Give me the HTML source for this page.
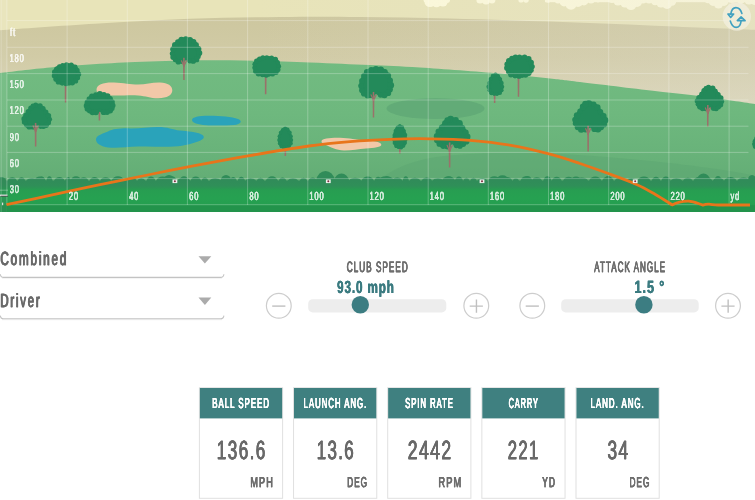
<!DOCTYPE html>
<html lang="en"><head><meta charset="utf-8"><title>Shot simulator</title>
<style>html,body{margin:0;padding:0;background:#fff}body{width:755px;height:500px;overflow:hidden;position:relative;font-family:"Liberation Sans",sans-serif}svg{position:absolute;left:0;top:0;display:block}</style></head>
<body>
<svg class="land" width="755" height="500" viewBox="0 0 755 500">
<defs>
<linearGradient id="gr" x1="0" y1="0" x2="0" y2="1"><stop offset="0" stop-color="#72bb81"/><stop offset="0.35" stop-color="#6eb87e"/><stop offset="0.6" stop-color="#69b37a"/><stop offset="0.8" stop-color="#63ad75"/><stop offset="1" stop-color="#5fa971"/></linearGradient>
<linearGradient id="tan" gradientUnits="userSpaceOnUse" x1="0" y1="17" x2="0" y2="105"><stop offset="0" stop-color="#cdc79f"/><stop offset="0.45" stop-color="#d1cba6"/><stop offset="1" stop-color="#dbd6b8"/></linearGradient>
<linearGradient id="hz" gradientUnits="userSpaceOnUse" x1="250" y1="0" x2="755" y2="0"><stop offset="0" stop-color="#dedbd0" stop-opacity="0"/><stop offset="1" stop-color="#dedbd0" stop-opacity="0.28"/></linearGradient>
<linearGradient id="bush" x1="0" y1="0" x2="0" y2="1"><stop offset="0" stop-color="#308c59"/><stop offset="0.55" stop-color="#2f8f58"/><stop offset="1" stop-color="#279d51"/></linearGradient>
<linearGradient id="fw" x1="0" y1="0" x2="0" y2="1"><stop offset="0" stop-color="#279d51"/><stop offset="0.4" stop-color="#26a151"/><stop offset="1" stop-color="#239b4e"/></linearGradient>
</defs>
<clipPath id="cl"><rect width="755" height="212"/></clipPath><g clip-path="url(#cl)">
<rect width="755" height="212" fill="#e8e4b9"/>
<g fill="#fdfadb"><circle cx="430" cy="1.5" r="5.6"/><circle cx="436.5" cy="2.5" r="4.8"/><circle cx="443" cy="2" r="4.6"/><circle cx="447" cy="0" r="3"/><circle cx="426" cy="0" r="2.5"/><circle cx="480" cy="0" r="3.6"/><circle cx="486" cy="0.5" r="4"/><circle cx="492" cy="0" r="3.4"/><circle cx="521" cy="0" r="2.6"/><circle cx="526" cy="0" r="2.8"/><circle cx="548" cy="-0.5" r="3.2"/><circle cx="558" cy="0" r="3.4"/><circle cx="564" cy="2" r="4.4"/><circle cx="571" cy="4" r="5.8"/><circle cx="578" cy="2" r="5"/><circle cx="584" cy="1" r="4.4"/><circle cx="591" cy="0" r="3.6"/><circle cx="598" cy="-1" r="3.4"/><circle cx="612" cy="-1" r="4"/><circle cx="618" cy="1" r="4.6"/><circle cx="625" cy="3" r="4.6"/><circle cx="631" cy="4.6" r="5.4"/><circle cx="637" cy="2" r="5"/><circle cx="643" cy="0" r="3.6"/><circle cx="649" cy="0" r="3.6"/><circle cx="655" cy="1" r="4.2"/><circle cx="661" cy="3" r="4.6"/><circle cx="667" cy="4" r="5"/><circle cx="672" cy="1.5" r="4.2"/><circle cx="677" cy="-1" r="3"/><circle cx="690" cy="-2" r="3.2"/><circle cx="700" cy="-2" r="4"/><circle cx="708" cy="-1" r="4.2"/><circle cx="713" cy="1.5" r="4.4"/><circle cx="718.5" cy="4" r="4.6"/><circle cx="724" cy="1.5" r="4.4"/><circle cx="732" cy="-1" r="4"/><circle cx="741" cy="-1" r="4.6"/><circle cx="749" cy="0" r="4.6"/><circle cx="755" cy="1" r="4"/><rect x="545" y="0" width="210" height="2.2"/></g>
<path d="M0,30.2C15.8,29.1 63.3,25.7 95.0,23.8C126.7,21.9 159.2,19.9 190.0,18.8C220.8,17.7 251.7,17.3 280.0,17.0C308.3,16.7 331.7,16.7 360.0,17.0C388.3,17.3 418.3,17.8 450.0,18.6C481.7,19.4 515.8,20.4 550.0,21.6C584.2,22.8 620.8,24.3 655.0,25.7C689.2,27.1 738.3,29.1 755.0,29.8L755,212L0,212Z" fill="url(#tan)"/>
<rect x="250" y="0" width="505" height="110" fill="url(#hz)"/>
<path d="M0,73C8.3,72.1 33.3,69.0 50.0,67.5C66.7,66.0 83.3,64.8 100.0,63.8C116.7,62.8 128.3,62.0 150.0,61.4C171.7,60.8 203.3,60.1 230.0,60.3C256.7,60.5 286.7,61.6 310.0,62.4C333.3,63.2 351.7,64.2 370.0,65.0C388.3,65.8 398.3,66.1 420.0,67.5C441.7,68.9 478.3,71.7 500.0,73.5C521.7,75.3 536.7,77.1 550.0,78.5C563.3,79.9 562.5,79.9 580.0,82.0C597.5,84.1 633.3,88.5 655.0,91.1C676.7,93.7 693.3,95.3 710.0,97.5C726.7,99.7 747.5,102.9 755.0,104.0L755,212L0,212Z" fill="url(#gr)"/>
<ellipse cx="435.5" cy="108.6" rx="49" ry="10.4" fill="#62ab77"/>
<path d="M430,158 C480,150 560,152 640,160 C700,166 740,172 755,176 L755,180 L380,180 C390,170 410,162 430,158Z" fill="#5ca671" opacity="0.5"/>
<path d="M96.5,90 C96.5,84 104,82.3 114,82.6 C124,83 130,84.6 138,84.6 C146,84.6 152,82.4 160,82.6 C168,82.8 172.3,86 172.3,90.5 C172.3,95 167,98.3 158,98.2 C150,98.1 146,96 138,95.4 C130,94.8 124,95.6 116,95.6 C106,95.6 96.5,95 96.5,90Z" fill="#f2c8a8"/>
<path d="M321.5,141 C322,138.6 330,137.6 340,137.8 C350,138 356,139.8 364,140.2 C372,140.6 381,141.6 381.3,144.4 C381.6,147 374,147.8 366,148.4 C358,149 352,150.5 344,150.4 C336,150.3 331,147.6 327,145.6 C323,143.8 321,142.6 321.5,141Z" fill="#f2c8a8"/>
<path d="M96,139 C96.5,135 103,133.6 108,131.4 C113,129 120,128.2 130,128.4 C140,128.6 148,127 158,127 C168,127 172,129.6 180,130.6 C188,131.4 196,132 201,134.2 C206,136.4 204,139.6 198,141.4 C192,143.2 186,145.6 174,146.4 C162,147.2 150,146 138,146.6 C126,147.2 116,148.4 108,147.4 C100,146.4 95.6,143 96,139Z" fill="#2aa3ba"/>
<path d="M192,120 C192,117 200,115.6 210,115.8 C220,116 232,116.6 238,119 C243,121 241,124.4 234,125 C226,125.6 214,125.8 206,125.2 C198,124.6 192,123 192,120Z" fill="#2aa3ba"/>
<path d="M34.7,125.0L36.5,125.0L36.4,146.5L34.9,146.5Z" fill="#9a716a"/>
<path d="M35.7,105.0C36.9,105.0 38.8,105.3 40.1,105.9C41.3,106.5 42.2,107.6 43.1,108.6C44.1,109.6 44.8,111.0 45.7,112.2C46.6,113.4 47.8,114.6 48.5,115.8C49.2,116.9 49.7,118.1 49.8,119.3C49.8,120.5 49.4,121.9 48.8,122.9C48.2,123.9 47.1,124.5 46.2,125.1C45.4,125.8 44.6,126.5 43.6,126.7C42.7,126.9 41.4,126.8 40.6,126.5C39.8,126.2 39.4,125.1 38.8,124.7C38.2,124.3 37.6,123.8 37.0,123.8C36.4,123.8 35.9,124.2 35.2,124.7C34.5,125.2 33.9,126.6 32.9,126.9C31.9,127.3 30.4,127.2 29.3,126.9C28.2,126.6 27.1,126.0 26.3,125.1C25.5,124.3 24.8,123.1 24.5,122.0C24.1,121.0 24.0,120.0 24.2,118.9C24.4,117.8 25.1,116.5 25.8,115.3C26.4,114.1 27.5,112.9 28.3,111.7C29.2,110.5 30.1,109.1 30.9,108.1C31.6,107.2 32.1,106.4 32.9,105.9C33.7,105.4 34.5,105.0 35.7,105.0Z" fill="#238a5a" stroke="#238a5a" stroke-width="3.1" stroke-linejoin="round"/>
<g fill="#238a5a"><circle cx="35.7" cy="105.0" r="2.4"/><circle cx="40.1" cy="105.9" r="2.6"/><circle cx="43.1" cy="108.6" r="2.5"/><circle cx="45.7" cy="112.2" r="2.7"/><circle cx="48.5" cy="115.8" r="2.7"/><circle cx="49.8" cy="119.3" r="2.3"/><circle cx="48.8" cy="122.9" r="2.2"/><circle cx="46.2" cy="125.1" r="2.8"/><circle cx="43.6" cy="126.7" r="2.4"/><circle cx="40.6" cy="126.5" r="2.4"/><circle cx="32.9" cy="126.9" r="2.6"/><circle cx="29.3" cy="126.9" r="2.7"/><circle cx="26.3" cy="125.1" r="2.3"/><circle cx="24.5" cy="122.0" r="2.7"/><circle cx="24.2" cy="118.9" r="2.8"/><circle cx="25.8" cy="115.3" r="2.6"/><circle cx="28.3" cy="111.7" r="2.7"/><circle cx="30.9" cy="108.1" r="2.7"/><circle cx="32.9" cy="105.9" r="2.3"/></g>
<path d="M35.6,131.4L33.2,125.9M35.6,131.4L38.2,125.9" stroke="#9a716a" stroke-width="1.2" fill="none" stroke-linecap="round"/>
<path d="M34.8,122.9L36.4,122.9L36.4,131.9L34.8,131.9Z" fill="#9a716a"/>
<path d="M64.7,81.8L66.5,81.8L66.3,102.4L64.8,102.4Z" fill="#9a716a"/>
<path d="M66.5,64.9C67.9,64.8 69.9,64.7 71.3,65.1C72.8,65.4 74.1,65.9 75.2,66.7C76.2,67.6 77.0,68.8 77.6,70.1C78.1,71.3 78.5,72.9 78.5,74.2C78.6,75.5 78.3,76.8 77.8,77.9C77.3,79.1 76.6,80.1 75.6,80.9C74.7,81.7 73.4,82.4 72.3,82.8C71.2,83.1 70.0,82.9 68.9,83.0C67.9,83.1 67.1,83.5 66.0,83.5C64.9,83.6 63.5,83.6 62.2,83.3C60.9,83.1 59.4,82.7 58.3,82.0C57.2,81.4 56.3,80.5 55.7,79.4C55.0,78.4 54.6,76.9 54.5,75.7C54.3,74.4 54.4,73.1 54.7,72.0C55.0,70.8 55.6,69.5 56.4,68.6C57.2,67.7 58.2,66.9 59.3,66.4C60.3,65.8 61.4,65.5 62.6,65.2C63.9,65.0 65.1,64.9 66.5,64.9Z" fill="#238a5a" stroke="#238a5a" stroke-width="3.0" stroke-linejoin="round"/>
<g fill="#238a5a"><circle cx="66.5" cy="64.9" r="2.6"/><circle cx="71.3" cy="65.1" r="2.5"/><circle cx="75.2" cy="66.7" r="2.3"/><circle cx="77.6" cy="70.1" r="2.1"/><circle cx="78.5" cy="74.2" r="2.7"/><circle cx="77.8" cy="77.9" r="2.4"/><circle cx="75.6" cy="80.9" r="2.6"/><circle cx="72.3" cy="82.8" r="2.7"/><circle cx="68.9" cy="83.0" r="2.6"/><circle cx="66.0" cy="83.5" r="2.7"/><circle cx="62.2" cy="83.3" r="2.4"/><circle cx="58.3" cy="82.0" r="2.6"/><circle cx="55.7" cy="79.4" r="2.4"/><circle cx="54.5" cy="75.7" r="2.7"/><circle cx="54.7" cy="72.0" r="2.7"/><circle cx="56.4" cy="68.6" r="2.2"/><circle cx="59.3" cy="66.4" r="2.2"/><circle cx="62.6" cy="65.2" r="2.2"/></g>
<path d="M98.5,111.2L100.3,111.2L100.2,120.4L98.7,120.4Z" fill="#9a716a"/>
<path d="M99.8,94.1C101.2,94.1 102.7,94.1 104.0,94.5C105.3,94.8 106.6,95.3 107.7,96.0C108.7,96.7 109.5,97.6 110.3,98.6C111.0,99.6 111.7,100.9 112.1,102.0C112.6,103.1 112.9,104.3 112.9,105.4C112.9,106.4 112.6,107.5 112.1,108.4C111.7,109.3 111.1,110.0 110.3,110.7C109.5,111.3 108.2,111.9 107.1,112.2C106.1,112.4 104.7,112.4 103.7,112.2C102.8,111.9 102.3,111.2 101.6,110.8C101.0,110.5 100.4,110.1 99.8,110.1C99.2,110.1 98.6,110.5 98.0,110.8C97.3,111.2 96.8,112.1 95.9,112.3C94.9,112.6 93.5,112.8 92.5,112.5C91.4,112.3 90.1,111.7 89.3,111.0C88.5,110.4 87.9,109.7 87.5,108.8C87.0,107.9 86.7,106.8 86.7,105.8C86.7,104.7 87.0,103.5 87.5,102.4C87.9,101.2 88.6,100.0 89.3,99.0C90.1,98.0 90.9,97.1 91.9,96.3C93.0,95.6 94.3,95.0 95.6,94.7C96.9,94.3 98.4,94.1 99.8,94.1Z" fill="#238a5a" stroke="#238a5a" stroke-width="3.2" stroke-linejoin="round"/>
<g fill="#238a5a"><circle cx="99.8" cy="94.1" r="3.0"/><circle cx="104.0" cy="94.5" r="2.6"/><circle cx="107.7" cy="96.0" r="2.7"/><circle cx="110.3" cy="98.6" r="2.5"/><circle cx="112.1" cy="102.0" r="2.7"/><circle cx="112.9" cy="105.4" r="2.6"/><circle cx="112.1" cy="108.4" r="2.5"/><circle cx="110.3" cy="110.7" r="2.7"/><circle cx="107.1" cy="112.2" r="2.7"/><circle cx="103.7" cy="112.2" r="2.9"/><circle cx="95.9" cy="112.3" r="3.0"/><circle cx="92.5" cy="112.5" r="2.8"/><circle cx="89.3" cy="111.0" r="2.4"/><circle cx="87.5" cy="108.8" r="2.9"/><circle cx="86.7" cy="105.8" r="3.0"/><circle cx="87.5" cy="102.4" r="2.9"/><circle cx="89.3" cy="99.0" r="2.7"/><circle cx="91.9" cy="96.3" r="2.8"/><circle cx="95.6" cy="94.7" r="2.4"/></g>
<path d="M183.0,59.8L184.8,59.8L184.7,80.0L183.2,80.0Z" fill="#9a716a"/>
<path d="M185.8,39.2C187.2,39.2 188.7,39.3 190.1,39.7C191.4,40.1 192.7,40.7 193.8,41.5C194.9,42.4 195.7,43.5 196.5,44.7C197.2,46.0 197.9,47.5 198.4,48.9C198.8,50.2 199.2,51.7 199.2,53.0C199.2,54.3 198.8,55.6 198.4,56.7C197.9,57.7 197.3,58.6 196.5,59.4C195.6,60.2 194.4,60.9 193.3,61.2C192.2,61.6 190.7,61.5 189.8,61.2C188.9,61.0 188.3,60.1 187.7,59.6C187.0,59.2 186.4,58.7 185.8,58.7C185.2,58.7 184.6,59.2 183.9,59.6C183.3,60.1 182.7,61.1 181.8,61.5C180.9,61.8 179.4,62.0 178.3,61.7C177.2,61.4 176.0,60.6 175.1,59.9C174.3,59.1 173.7,58.2 173.2,57.1C172.8,56.0 172.4,54.8 172.4,53.5C172.4,52.2 172.8,50.7 173.2,49.3C173.7,47.9 174.4,46.4 175.1,45.2C175.9,44.0 176.7,42.9 177.8,42.0C178.9,41.1 180.2,40.4 181.5,39.9C182.9,39.5 184.4,39.3 185.8,39.2Z" fill="#238a5a" stroke="#238a5a" stroke-width="3.3" stroke-linejoin="round"/>
<g fill="#238a5a"><circle cx="185.8" cy="39.2" r="2.9"/><circle cx="190.1" cy="39.7" r="2.8"/><circle cx="193.8" cy="41.5" r="2.5"/><circle cx="196.5" cy="44.7" r="2.4"/><circle cx="198.4" cy="48.9" r="3.0"/><circle cx="199.2" cy="53.0" r="3.1"/><circle cx="198.4" cy="56.7" r="2.4"/><circle cx="196.5" cy="59.4" r="2.9"/><circle cx="193.3" cy="61.2" r="2.6"/><circle cx="189.8" cy="61.2" r="2.4"/><circle cx="181.8" cy="61.5" r="2.4"/><circle cx="178.3" cy="61.7" r="2.8"/><circle cx="175.1" cy="59.9" r="2.4"/><circle cx="173.2" cy="57.1" r="2.9"/><circle cx="172.4" cy="53.5" r="2.6"/><circle cx="173.2" cy="49.3" r="3.0"/><circle cx="175.1" cy="45.2" r="3.1"/><circle cx="177.8" cy="42.0" r="2.7"/><circle cx="181.5" cy="39.9" r="3.1"/></g>
<path d="M183.9,66.3L181.5,60.8M183.9,66.3L186.5,60.8" stroke="#9a716a" stroke-width="1.2" fill="none" stroke-linecap="round"/>
<path d="M183.1,57.8L184.7,57.8L184.7,66.8L183.1,66.8Z" fill="#9a716a"/>
<path d="M264.8,73.5L266.6,73.5L266.4,94.2L264.9,94.2Z" fill="#9a716a"/>
<path d="M266.8,57.5C268.2,57.5 270.2,57.4 271.6,57.7C273.1,58.0 274.5,58.5 275.5,59.3C276.6,60.0 277.4,61.2 277.9,62.4C278.5,63.6 278.9,65.1 278.9,66.3C279.0,67.5 278.7,68.8 278.2,69.8C277.7,70.9 276.9,71.9 276.0,72.6C275.1,73.4 273.7,74.1 272.6,74.4C271.5,74.7 270.2,74.5 269.2,74.6C268.1,74.7 267.4,75.1 266.3,75.1C265.1,75.2 263.7,75.2 262.4,74.9C261.1,74.7 259.6,74.3 258.5,73.7C257.4,73.1 256.5,72.2 255.8,71.2C255.2,70.2 254.8,68.9 254.6,67.7C254.4,66.5 254.5,65.3 254.8,64.2C255.2,63.1 255.8,61.9 256.5,61.0C257.3,60.1 258.4,59.4 259.5,58.9C260.5,58.4 261.6,58.1 262.9,57.8C264.1,57.6 265.3,57.5 266.8,57.5Z" fill="#238a5a" stroke="#238a5a" stroke-width="3.0" stroke-linejoin="round"/>
<g fill="#238a5a"><circle cx="266.8" cy="57.5" r="2.3"/><circle cx="271.6" cy="57.7" r="2.2"/><circle cx="275.5" cy="59.3" r="2.5"/><circle cx="277.9" cy="62.4" r="2.1"/><circle cx="278.9" cy="66.3" r="2.2"/><circle cx="278.2" cy="69.8" r="2.4"/><circle cx="276.0" cy="72.6" r="2.5"/><circle cx="272.6" cy="74.4" r="2.2"/><circle cx="269.2" cy="74.6" r="2.1"/><circle cx="266.3" cy="75.1" r="2.7"/><circle cx="262.4" cy="74.9" r="2.3"/><circle cx="258.5" cy="73.7" r="2.8"/><circle cx="255.8" cy="71.2" r="2.7"/><circle cx="254.6" cy="67.7" r="2.4"/><circle cx="254.8" cy="64.2" r="2.4"/><circle cx="256.5" cy="61.0" r="2.5"/><circle cx="259.5" cy="58.9" r="2.5"/><circle cx="262.9" cy="57.8" r="2.5"/></g>
<path d="M284.5,145.1L286.3,145.1L286.1,156.1L284.6,156.1Z" fill="#9a716a"/>
<path d="M285.2,128.3C286.0,128.3 286.9,128.7 287.7,129.4C288.5,130.1 289.2,131.4 289.7,132.5C290.3,133.6 290.7,135.0 291.0,136.3C291.3,137.6 291.5,138.9 291.5,140.1C291.5,141.4 291.3,142.6 290.9,143.6C290.5,144.6 289.9,145.6 289.2,146.3C288.5,146.9 287.6,147.2 286.7,147.4C285.8,147.6 284.8,147.6 283.9,147.4C283.0,147.2 282.1,147.1 281.3,146.5C280.6,145.8 280.0,144.6 279.6,143.6C279.1,142.5 278.8,141.4 278.8,140.1C278.8,138.9 279.0,137.6 279.3,136.3C279.6,135.0 280.0,133.6 280.6,132.5C281.1,131.4 281.8,130.1 282.6,129.4C283.4,128.7 284.3,128.3 285.2,128.3Z" fill="#238a5a" stroke="#238a5a" stroke-width="2.2" stroke-linejoin="round"/>
<g fill="#238a5a"><circle cx="285.2" cy="128.3" r="1.8"/><circle cx="287.7" cy="129.4" r="1.8"/><circle cx="289.7" cy="132.5" r="2.0"/><circle cx="291.0" cy="136.3" r="1.8"/><circle cx="291.5" cy="140.1" r="1.7"/><circle cx="290.9" cy="143.6" r="1.9"/><circle cx="289.2" cy="146.3" r="1.6"/><circle cx="286.7" cy="147.4" r="1.7"/><circle cx="283.9" cy="147.4" r="2.0"/><circle cx="281.3" cy="146.5" r="1.8"/><circle cx="279.6" cy="143.6" r="1.8"/><circle cx="278.8" cy="140.1" r="1.5"/><circle cx="279.3" cy="136.3" r="1.7"/><circle cx="280.6" cy="132.5" r="1.8"/><circle cx="282.6" cy="129.4" r="1.5"/></g>
<path d="M372.6,93.2L374.4,93.2L374.2,117.4L372.8,117.4Z" fill="#9a716a"/>
<path d="M376.0,69.0C377.6,68.9 379.3,69.1 380.8,69.5C382.3,70.0 383.8,70.7 385.0,71.7C386.2,72.7 387.1,74.0 388.0,75.5C388.8,76.9 389.5,78.7 390.0,80.4C390.5,82.0 390.9,83.7 390.9,85.3C390.9,86.8 390.5,88.3 390.0,89.6C389.5,90.9 388.9,92.0 388.0,92.9C387.0,93.8 385.6,94.7 384.4,95.1C383.1,95.4 381.5,95.4 380.5,95.1C379.4,94.7 378.8,93.6 378.1,93.2C377.3,92.7 376.7,92.1 376.0,92.1C375.3,92.1 374.7,92.6 373.9,93.2C373.2,93.7 372.6,94.9 371.5,95.3C370.5,95.7 368.9,95.9 367.6,95.6C366.4,95.3 365.0,94.3 364.0,93.4C363.1,92.5 362.5,91.4 362.0,90.2C361.5,88.9 361.1,87.4 361.1,85.8C361.1,84.3 361.5,82.5 362.0,80.9C362.5,79.3 363.2,77.5 364.0,76.0C364.9,74.6 365.8,73.3 367.0,72.2C368.2,71.2 369.7,70.3 371.2,69.8C372.7,69.2 374.4,69.0 376.0,69.0Z" fill="#238a5a" stroke="#238a5a" stroke-width="3.7" stroke-linejoin="round"/>
<g fill="#238a5a"><circle cx="376.0" cy="69.0" r="3.1"/><circle cx="380.8" cy="69.5" r="3.1"/><circle cx="385.0" cy="71.7" r="2.7"/><circle cx="388.0" cy="75.5" r="3.1"/><circle cx="390.0" cy="80.4" r="3.0"/><circle cx="390.9" cy="85.3" r="3.2"/><circle cx="390.0" cy="89.6" r="2.9"/><circle cx="388.0" cy="92.9" r="3.2"/><circle cx="384.4" cy="95.1" r="3.2"/><circle cx="380.5" cy="95.1" r="2.6"/><circle cx="371.5" cy="95.3" r="2.8"/><circle cx="367.6" cy="95.6" r="3.0"/><circle cx="364.0" cy="93.4" r="3.1"/><circle cx="362.0" cy="90.2" r="2.9"/><circle cx="361.1" cy="85.8" r="2.9"/><circle cx="362.0" cy="80.9" r="2.9"/><circle cx="364.0" cy="76.0" r="2.9"/><circle cx="367.0" cy="72.2" r="3.1"/><circle cx="371.2" cy="69.8" r="2.8"/></g>
<path d="M373.5,100.4L371.1,94.9M373.5,100.4L376.1,94.9" stroke="#9a716a" stroke-width="1.2" fill="none" stroke-linecap="round"/>
<path d="M372.7,91.9L374.3,91.9L374.3,100.9L372.7,100.9Z" fill="#9a716a"/>
<path d="M398.9,144.7L400.7,144.7L400.6,153.4L399.1,153.4Z" fill="#9a716a"/>
<path d="M399.8,125.7C400.6,125.7 401.5,126.3 402.2,127.1C403.0,127.8 403.7,129.2 404.2,130.5C404.8,131.8 405.2,133.4 405.5,134.9C405.7,136.3 406.0,137.8 406.0,139.2C405.9,140.6 405.7,142.0 405.3,143.1C405.0,144.3 404.4,145.4 403.7,146.1C403.0,146.9 402.1,147.2 401.2,147.5C400.4,147.7 399.4,147.6 398.5,147.5C397.6,147.3 396.7,147.1 396.0,146.4C395.3,145.6 394.7,144.3 394.3,143.1C393.9,141.9 393.6,140.6 393.5,139.2C393.5,137.8 393.8,136.3 394.0,134.9C394.3,133.4 394.7,131.8 395.3,130.5C395.8,129.2 396.5,127.8 397.3,127.1C398.0,126.3 398.9,125.7 399.8,125.7Z" fill="#238a5a" stroke="#238a5a" stroke-width="2.1" stroke-linejoin="round"/>
<g fill="#238a5a"><circle cx="399.8" cy="125.7" r="1.7"/><circle cx="402.2" cy="127.1" r="1.9"/><circle cx="404.2" cy="130.5" r="1.5"/><circle cx="405.5" cy="134.9" r="1.8"/><circle cx="406.0" cy="139.2" r="1.8"/><circle cx="405.3" cy="143.1" r="1.6"/><circle cx="403.7" cy="146.1" r="1.6"/><circle cx="401.2" cy="147.5" r="1.9"/><circle cx="398.5" cy="147.5" r="1.6"/><circle cx="396.0" cy="146.4" r="1.6"/><circle cx="394.3" cy="143.1" r="1.7"/><circle cx="393.5" cy="139.2" r="1.8"/><circle cx="394.0" cy="134.9" r="1.5"/><circle cx="395.3" cy="130.5" r="1.6"/><circle cx="397.3" cy="127.1" r="1.6"/></g>
<path d="M448.7,143.7L450.5,143.7L450.4,167.4L448.9,167.4Z" fill="#9a716a"/>
<path d="M450.6,119.0C452.0,119.0 454.3,119.4 455.8,120.1C457.2,120.8 458.3,122.1 459.4,123.4C460.5,124.7 461.4,126.4 462.5,127.9C463.5,129.3 465.0,130.8 465.8,132.3C466.6,133.8 467.2,135.3 467.3,136.7C467.3,138.2 466.8,140.0 466.1,141.2C465.4,142.4 464.1,143.1 463.1,143.9C462.0,144.7 461.1,145.6 460.0,145.9C458.9,146.1 457.4,146.0 456.4,145.6C455.4,145.2 455.0,143.9 454.3,143.4C453.6,142.8 452.9,142.3 452.1,142.3C451.4,142.3 450.8,142.7 450.0,143.4C449.2,144.0 448.5,145.7 447.3,146.1C446.1,146.6 444.4,146.5 443.1,146.1C441.7,145.8 440.4,144.9 439.4,143.9C438.5,142.9 437.7,141.3 437.3,140.1C436.9,138.8 436.8,137.6 437.0,136.2C437.3,134.8 438.0,133.2 438.8,131.7C439.6,130.3 440.8,128.8 441.8,127.3C442.9,125.8 444.0,124.1 444.9,122.9C445.8,121.7 446.3,120.8 447.3,120.1C448.3,119.5 449.2,119.0 450.6,119.0Z" fill="#238a5a" stroke="#238a5a" stroke-width="3.7" stroke-linejoin="round"/>
<g fill="#238a5a"><circle cx="450.6" cy="119.0" r="3.3"/><circle cx="455.8" cy="120.1" r="3.0"/><circle cx="459.4" cy="123.4" r="3.4"/><circle cx="462.5" cy="127.9" r="2.8"/><circle cx="465.8" cy="132.3" r="2.9"/><circle cx="467.3" cy="136.7" r="3.2"/><circle cx="466.1" cy="141.2" r="3.4"/><circle cx="463.1" cy="143.9" r="3.0"/><circle cx="460.0" cy="145.9" r="2.8"/><circle cx="456.4" cy="145.6" r="2.7"/><circle cx="447.3" cy="146.1" r="3.3"/><circle cx="443.1" cy="146.1" r="2.8"/><circle cx="439.4" cy="143.9" r="2.9"/><circle cx="437.3" cy="140.1" r="3.3"/><circle cx="437.0" cy="136.2" r="3.2"/><circle cx="438.8" cy="131.7" r="3.3"/><circle cx="441.8" cy="127.3" r="2.9"/><circle cx="444.9" cy="122.9" r="2.7"/><circle cx="447.3" cy="120.1" r="2.9"/></g>
<path d="M449.6,150.9L447.2,145.4M449.6,150.9L452.2,145.4" stroke="#9a716a" stroke-width="1.2" fill="none" stroke-linecap="round"/>
<path d="M448.8,142.4L450.4,142.4L450.4,151.4L448.8,151.4Z" fill="#9a716a"/>
<path d="M493.7,91.9L495.5,91.9L495.4,102.9L493.9,102.9Z" fill="#9a716a"/>
<path d="M495.5,74.7C496.4,74.7 497.4,75.2 498.2,75.9C499.1,76.6 499.8,77.8 500.4,79.0C501.0,80.2 501.5,81.6 501.8,82.9C502.1,84.2 502.4,85.6 502.4,86.8C502.3,88.0 502.1,89.2 501.7,90.3C501.3,91.3 500.6,92.4 499.9,93.0C499.1,93.6 498.1,94.0 497.1,94.2C496.2,94.4 495.1,94.3 494.1,94.2C493.2,94.0 492.2,93.8 491.4,93.2C490.6,92.5 489.9,91.3 489.5,90.3C489.0,89.2 488.7,88.0 488.6,86.8C488.6,85.6 488.9,84.2 489.2,82.9C489.5,81.6 490.0,80.2 490.6,79.0C491.2,77.8 491.9,76.6 492.8,75.9C493.6,75.2 494.6,74.7 495.5,74.7Z" fill="#238a5a" stroke="#238a5a" stroke-width="2.3" stroke-linejoin="round"/>
<g fill="#238a5a"><circle cx="495.5" cy="74.7" r="2.1"/><circle cx="498.2" cy="75.9" r="1.8"/><circle cx="500.4" cy="79.0" r="1.8"/><circle cx="501.8" cy="82.9" r="1.9"/><circle cx="502.4" cy="86.8" r="1.9"/><circle cx="501.7" cy="90.3" r="1.9"/><circle cx="499.9" cy="93.0" r="2.1"/><circle cx="497.1" cy="94.2" r="1.7"/><circle cx="494.1" cy="94.2" r="1.6"/><circle cx="491.4" cy="93.2" r="2.1"/><circle cx="489.5" cy="90.3" r="2.1"/><circle cx="488.6" cy="86.8" r="2.2"/><circle cx="489.2" cy="82.9" r="1.9"/><circle cx="490.6" cy="79.0" r="2.1"/><circle cx="492.8" cy="75.9" r="2.1"/></g>
<path d="M517.6,74.4L519.4,74.4L519.2,96.8L517.8,96.8Z" fill="#9a716a"/>
<path d="M519.5,57.0C521.1,57.0 523.1,56.9 524.6,57.2C526.1,57.5 527.6,58.0 528.7,58.9C529.8,59.8 530.6,61.1 531.2,62.4C531.8,63.7 532.2,65.3 532.2,66.6C532.2,67.9 532.0,69.3 531.4,70.4C530.9,71.6 530.1,72.7 529.2,73.5C528.2,74.4 526.8,75.1 525.6,75.4C524.4,75.8 523.2,75.5 522.1,75.6C521.0,75.8 520.2,76.1 519.0,76.2C517.9,76.3 516.3,76.3 515.0,76.0C513.6,75.8 512.1,75.3 510.9,74.7C509.8,74.0 508.8,73.1 508.2,72.0C507.5,70.9 507.1,69.4 506.9,68.1C506.7,66.9 506.8,65.5 507.1,64.3C507.5,63.1 508.1,61.8 508.9,60.8C509.7,59.9 510.9,59.1 512.0,58.5C513.1,58.0 514.2,57.6 515.5,57.4C516.8,57.1 518.0,57.0 519.5,57.0Z" fill="#238a5a" stroke="#238a5a" stroke-width="3.1" stroke-linejoin="round"/>
<g fill="#238a5a"><circle cx="519.5" cy="57.0" r="2.4"/><circle cx="524.6" cy="57.2" r="2.7"/><circle cx="528.7" cy="58.9" r="2.8"/><circle cx="531.2" cy="62.4" r="2.7"/><circle cx="532.2" cy="66.6" r="2.6"/><circle cx="531.4" cy="70.4" r="2.4"/><circle cx="529.2" cy="73.5" r="2.4"/><circle cx="525.6" cy="75.4" r="2.4"/><circle cx="522.1" cy="75.6" r="2.3"/><circle cx="519.0" cy="76.2" r="2.6"/><circle cx="515.0" cy="76.0" r="2.4"/><circle cx="510.9" cy="74.7" r="2.8"/><circle cx="508.2" cy="72.0" r="2.2"/><circle cx="506.9" cy="68.1" r="2.8"/><circle cx="507.1" cy="64.3" r="2.7"/><circle cx="508.9" cy="60.8" r="2.9"/><circle cx="512.0" cy="58.5" r="2.8"/><circle cx="515.5" cy="57.4" r="2.8"/></g>
<path d="M587.2,127.1L589.0,127.1L588.9,151.4L587.4,151.4Z" fill="#9a716a"/>
<path d="M588.8,103.2C590.2,103.2 592.4,103.5 593.8,104.2C595.3,105.0 596.3,106.2 597.4,107.5C598.5,108.7 599.4,110.3 600.4,111.7C601.5,113.2 602.9,114.6 603.7,116.0C604.5,117.4 605.2,118.9 605.2,120.3C605.3,121.7 604.7,123.4 604.0,124.6C603.3,125.7 602.0,126.5 601.0,127.3C600.0,128.0 599.1,128.9 598.0,129.1C596.9,129.4 595.4,129.3 594.4,128.9C593.5,128.5 593.0,127.3 592.3,126.7C591.6,126.2 590.9,125.6 590.2,125.6C589.6,125.6 589.0,126.1 588.2,126.7C587.4,127.3 586.6,129.0 585.5,129.4C584.3,129.8 582.6,129.8 581.3,129.4C580.0,129.0 578.6,128.2 577.7,127.3C576.7,126.3 576.0,124.8 575.6,123.5C575.2,122.3 575.0,121.1 575.3,119.8C575.5,118.4 576.3,116.9 577.1,115.5C577.9,114.1 579.1,112.6 580.1,111.2C581.1,109.8 582.2,108.1 583.1,106.9C584.0,105.8 584.5,104.9 585.5,104.2C586.4,103.6 587.4,103.2 588.8,103.2Z" fill="#238a5a" stroke="#238a5a" stroke-width="3.7" stroke-linejoin="round"/>
<g fill="#238a5a"><circle cx="588.8" cy="103.2" r="3.1"/><circle cx="593.8" cy="104.2" r="2.6"/><circle cx="597.4" cy="107.5" r="3.2"/><circle cx="600.4" cy="111.7" r="2.8"/><circle cx="603.7" cy="116.0" r="2.9"/><circle cx="605.2" cy="120.3" r="3.2"/><circle cx="604.0" cy="124.6" r="3.0"/><circle cx="601.0" cy="127.3" r="3.0"/><circle cx="598.0" cy="129.1" r="3.4"/><circle cx="594.4" cy="128.9" r="3.1"/><circle cx="585.5" cy="129.4" r="3.0"/><circle cx="581.3" cy="129.4" r="3.3"/><circle cx="577.7" cy="127.3" r="2.9"/><circle cx="575.6" cy="123.5" r="2.8"/><circle cx="575.3" cy="119.8" r="3.1"/><circle cx="577.1" cy="115.5" r="3.3"/><circle cx="580.1" cy="111.2" r="2.8"/><circle cx="583.1" cy="106.9" r="3.3"/><circle cx="585.5" cy="104.2" r="3.4"/></g>
<path d="M588.1,134.2L585.7,128.7M588.1,134.2L590.7,128.7" stroke="#9a716a" stroke-width="1.2" fill="none" stroke-linecap="round"/>
<path d="M587.3,125.7L588.9,125.7L588.9,134.7L587.3,134.7Z" fill="#9a716a"/>
<path d="M706.9,107.1L708.7,107.1L708.5,126.4L707.0,126.4Z" fill="#9a716a"/>
<path d="M708.5,87.4C709.7,87.4 711.5,87.7 712.7,88.3C713.9,88.9 714.7,89.9 715.6,90.9C716.5,92.0 717.2,93.3 718.1,94.5C718.9,95.7 720.1,96.8 720.8,98.0C721.4,99.2 722.0,100.4 722.0,101.5C722.0,102.7 721.6,104.1 721.0,105.1C720.4,106.0 719.4,106.7 718.6,107.3C717.7,107.9 717.0,108.6 716.1,108.8C715.2,109.1 714.0,108.9 713.2,108.6C712.4,108.3 712.0,107.3 711.5,106.8C710.9,106.4 710.3,106.0 709.8,106.0C709.2,106.0 708.7,106.3 708.0,106.8C707.4,107.4 706.8,108.7 705.8,109.1C704.9,109.4 703.5,109.3 702.4,109.1C701.3,108.8 700.2,108.1 699.5,107.3C698.7,106.5 698.1,105.2 697.8,104.2C697.4,103.2 697.3,102.2 697.5,101.1C697.7,100.0 698.3,98.7 699.0,97.6C699.6,96.4 700.6,95.2 701.4,94.0C702.2,92.9 703.1,91.5 703.9,90.5C704.6,89.5 705.1,88.8 705.8,88.3C706.6,87.8 707.4,87.4 708.5,87.4Z" fill="#238a5a" stroke="#238a5a" stroke-width="3.0" stroke-linejoin="round"/>
<g fill="#238a5a"><circle cx="708.5" cy="87.4" r="2.7"/><circle cx="712.7" cy="88.3" r="2.7"/><circle cx="715.6" cy="90.9" r="2.1"/><circle cx="718.1" cy="94.5" r="2.6"/><circle cx="720.8" cy="98.0" r="2.7"/><circle cx="722.0" cy="101.5" r="2.2"/><circle cx="721.0" cy="105.1" r="2.3"/><circle cx="718.6" cy="107.3" r="2.3"/><circle cx="716.1" cy="108.8" r="2.5"/><circle cx="713.2" cy="108.6" r="2.4"/><circle cx="705.8" cy="109.1" r="2.2"/><circle cx="702.4" cy="109.1" r="2.2"/><circle cx="699.5" cy="107.3" r="2.2"/><circle cx="697.8" cy="104.2" r="2.2"/><circle cx="697.5" cy="101.1" r="2.8"/><circle cx="699.0" cy="97.6" r="2.7"/><circle cx="701.4" cy="94.0" r="2.2"/><circle cx="703.9" cy="90.5" r="2.5"/><circle cx="705.8" cy="88.3" r="2.3"/></g>
<path d="M707.8,113.4L705.4,107.9M707.8,113.4L710.4,107.9" stroke="#9a716a" stroke-width="1.2" fill="none" stroke-linecap="round"/>
<path d="M707.0,104.9L708.6,104.9L708.6,113.9L707.0,113.9Z" fill="#9a716a"/>
<path d="M762.1,148.5L763.9,148.5L763.8,165.0L762.2,165.0Z" fill="#9a716a"/>
<path d="M763.3,135.4C764.5,135.4 765.9,135.7 767.0,136.2C768.0,136.7 769.1,137.6 769.9,138.5C770.7,139.3 771.3,140.3 771.7,141.3C772.1,142.2 772.5,143.2 772.4,144.1C772.4,145.0 772.1,145.9 771.5,146.6C771.0,147.4 770.1,148.1 769.1,148.6C768.1,149.1 766.8,149.3 765.5,149.4C764.2,149.6 762.8,149.5 761.5,149.4C760.2,149.3 758.9,149.2 757.8,148.7C756.8,148.3 755.9,147.4 755.3,146.6C754.7,145.8 754.2,145.0 754.2,144.1C754.1,143.2 754.5,142.2 754.9,141.3C755.3,140.3 755.9,139.3 756.7,138.5C757.5,137.6 758.6,136.7 759.6,136.2C760.7,135.7 762.1,135.4 763.3,135.4Z" fill="#238a5a" stroke="#238a5a" stroke-width="3.1" stroke-linejoin="round"/>
<g fill="#238a5a"><circle cx="763.3" cy="135.4" r="2.4"/><circle cx="767.0" cy="136.2" r="2.4"/><circle cx="769.9" cy="138.5" r="2.6"/><circle cx="771.7" cy="141.3" r="2.6"/><circle cx="772.4" cy="144.1" r="2.4"/><circle cx="771.5" cy="146.6" r="2.3"/><circle cx="769.1" cy="148.6" r="2.4"/><circle cx="765.5" cy="149.4" r="2.3"/><circle cx="761.5" cy="149.4" r="2.6"/><circle cx="757.8" cy="148.7" r="2.7"/><circle cx="755.3" cy="146.6" r="2.5"/><circle cx="754.2" cy="144.1" r="2.2"/><circle cx="754.9" cy="141.3" r="2.3"/><circle cx="756.7" cy="138.5" r="2.4"/><circle cx="759.6" cy="136.2" r="2.6"/></g>
<path d="M-3.0,181L-3.0,180.6Q-1.6,177.1 1.6,177.1Q4.8,177.1 6.2,180.6L7.7,180.6Q9.0,177.2 12.3,177.2Q15.5,177.2 16.9,180.6L17.9,180.6Q19.0,177.2 21.6,177.2Q24.1,177.2 25.2,180.6L26.3,180.6Q28.0,178.0 32.1,178.0Q36.1,178.0 37.9,180.6L38.5,180.6Q39.5,176.6 41.8,176.6Q44.1,176.6 45.1,180.6L46.3,180.6Q47.2,176.2 49.4,176.2Q51.6,176.2 52.6,180.6L54.1,180.6Q55.7,177.0 59.4,177.0Q63.1,177.0 64.7,180.6L65.1,180.6Q66.1,177.1 68.2,177.1Q70.3,177.1 71.2,180.6L71.5,180.6Q72.6,177.7 75.2,177.7Q77.8,177.7 78.9,180.6L79.1,180.6Q80.5,177.3 83.7,177.3Q87.0,177.3 88.3,180.6L89.7,180.6Q91.2,176.9 94.5,176.9Q97.9,176.9 99.4,180.6L100.3,180.6Q101.9,177.3 105.6,177.3Q109.3,177.3 110.9,180.6L111.5,180.6Q113.4,176.2 118.0,176.2Q122.5,176.2 124.5,180.6L125.8,180.6Q127.5,177.6 131.3,177.6Q135.2,177.6 136.8,180.6L137.3,180.6Q138.5,178.1 141.3,178.1Q144.1,178.1 145.3,180.6L146.6,180.6Q147.9,176.5 151.0,176.5Q154.1,176.5 155.4,180.6L156.2,180.6Q158.1,176.5 162.5,176.5Q167.0,176.5 168.9,180.6L169.1,180.6Q170.2,176.4 172.8,176.4Q175.4,176.4 176.5,180.6L177.4,180.6Q179.3,177.4 183.8,177.4Q188.3,177.4 190.3,180.6L190.6,180.6Q192.1,176.6 195.8,176.6Q199.4,176.6 201.0,180.6L201.5,180.6Q202.5,177.5 204.9,177.5Q207.2,177.5 208.2,180.6L209.7,180.6Q211.4,178.0 215.4,178.0Q219.3,178.0 221.0,180.6L221.6,180.6Q222.6,178.1 224.9,178.1Q227.3,178.1 228.3,180.6L229.6,180.6Q230.7,177.1 233.2,177.1Q235.7,177.1 236.8,180.6L237.7,180.6Q238.8,176.7 241.3,176.7Q243.9,176.7 245.0,180.6L245.4,180.6Q246.9,178.0 250.6,178.0Q254.3,178.0 255.9,180.6L256.7,180.6Q257.8,177.7 260.4,177.7Q263.0,177.7 264.2,180.6L265.7,180.6Q267.5,177.6 271.5,177.6Q275.6,177.6 277.3,180.6L278.8,180.6Q279.9,177.4 282.5,177.4Q285.1,177.4 286.3,180.6L287.6,180.6Q289.2,178.0 292.9,178.0Q296.6,178.0 298.1,180.6L299.7,180.6Q300.8,177.7 303.5,177.7Q306.1,177.7 307.2,180.6L308.5,180.6Q309.7,177.6 312.7,177.6Q315.6,177.6 316.8,180.6L317.1,180.6Q318.1,177.0 320.4,177.0Q322.7,177.0 323.7,180.6L324.3,180.6Q325.8,177.5 329.4,177.5Q333.0,177.5 334.5,180.6L335.3,180.6Q337.2,177.2 341.7,177.2Q346.1,177.2 348.0,180.6L349.0,180.6Q350.8,177.8 355.1,177.8Q359.3,177.8 361.1,180.6L361.5,180.6Q363.4,176.6 367.7,176.6Q372.0,176.6 373.9,180.6L374.4,180.6Q375.5,176.7 378.1,176.7Q380.7,176.7 381.8,180.6L383.3,180.6Q384.4,176.3 387.0,176.3Q389.5,176.3 390.6,180.6L392.1,180.6Q393.6,177.4 397.2,177.4Q400.8,177.4 402.3,180.6L402.7,180.6Q403.6,176.3 405.8,176.3Q408.0,176.3 408.9,180.6L409.5,180.6Q411.1,177.7 414.9,177.7Q418.8,177.7 420.4,180.6L421.7,180.6Q423.3,177.6 426.8,177.6Q430.4,177.6 431.9,180.6L432.4,180.6Q434.0,178.1 437.9,178.1Q441.8,178.1 443.4,180.6L443.9,180.6Q445.4,176.5 448.9,176.5Q452.4,176.5 453.8,180.6L454.9,180.6Q456.1,176.4 458.9,176.4Q461.7,176.4 462.9,180.6L463.3,180.6Q464.3,177.7 466.4,177.7Q468.5,177.7 469.5,180.6L470.3,180.6Q471.3,177.8 473.5,177.8Q475.7,177.8 476.7,180.6L477.4,180.6Q478.9,177.9 482.4,177.9Q485.9,177.9 487.4,180.6L488.1,180.6Q490.0,176.2 494.3,176.2Q498.5,176.2 500.4,180.6L501.5,180.6Q503.1,177.0 506.9,177.0Q510.7,177.0 512.3,180.6L512.7,180.6Q513.7,178.2 515.9,178.2Q518.0,178.2 519.0,180.6L520.5,180.6Q522.1,176.3 525.9,176.3Q529.7,176.3 531.4,180.6L531.6,180.6Q533.2,177.2 536.8,177.2Q540.5,177.2 542.0,180.6L543.3,180.6Q544.5,176.2 547.4,176.2Q550.3,176.2 551.5,180.6L551.8,180.6Q553.3,176.7 556.7,176.7Q560.2,176.7 561.6,180.6L563.1,180.6Q564.8,176.8 568.7,176.8Q572.6,176.8 574.2,180.6L575.6,180.6Q577.4,177.5 581.8,177.5Q586.1,177.5 588.0,180.6L589.1,180.6Q591.0,176.5 595.3,176.5Q599.6,176.5 601.4,180.6L602.2,180.6Q603.9,176.5 608.0,176.5Q612.0,176.5 613.7,180.6L614.7,180.6Q616.3,177.4 619.9,177.4Q623.6,177.4 625.1,180.6L626.1,180.6Q627.7,178.0 631.3,178.0Q634.9,178.0 636.4,180.6L637.5,180.6Q639.4,176.4 644.0,176.4Q648.5,176.4 650.4,180.6L651.7,180.6Q653.0,176.7 656.0,176.7Q659.1,176.7 660.4,180.6L661.4,180.6Q662.8,176.5 665.9,176.5Q669.1,176.5 670.5,180.6L670.8,180.6Q672.5,178.1 676.4,178.1Q680.4,178.1 682.1,180.6L683.1,180.6Q684.5,177.7 687.8,177.7Q691.1,177.7 692.5,180.6L693.6,180.6Q695.1,177.0 698.4,177.0Q701.7,177.0 703.1,180.6L704.6,180.6Q705.8,178.2 708.5,178.2Q711.2,178.2 712.4,180.6L713.0,180.6Q714.6,177.8 718.4,177.8Q722.2,177.8 723.8,180.6L724.2,180.6Q726.1,176.9 730.4,176.9Q734.7,176.9 736.5,180.6L737.4,180.6Q739.2,177.5 743.5,177.5Q747.8,177.5 749.6,180.6L750.7,180.6Q751.8,177.3 754.4,177.3Q757.0,177.3 758.1,180.6L759.5,180.6Q761.3,176.4 765.7,176.4Q770.0,176.4 771.9,180.6L760,190L-3,190Z" fill="#308c59"/>
<path d="M315.5,181 Q318.5,171.0 325.5,171.0 Q332.5,171.0 335.5,181Z" fill="#308c59"/>
<path d="M333.5,181 Q335.9,173.4 341.5,173.4 Q347.1,173.4 349.5,181Z" fill="#308c59"/>
<path d="M162.5,181 Q164.4,175.0 169.0,175.0 Q173.6,175.0 175.5,181Z" fill="#308c59"/>
<path d="M179.0,181 Q180.5,176.2 184.0,176.2 Q187.5,176.2 189.0,181Z" fill="#308c59"/>
<path d="M220.0,181 Q221.8,175.0 226.0,175.0 Q230.2,175.0 232.0,181Z" fill="#308c59"/>
<path d="M696.0,181 Q698.2,173.4 703.5,173.4 Q708.8,173.4 711.0,181Z" fill="#308c59"/>
<path d="M714.0,181 Q715.2,176.0 718.0,176.0 Q720.8,176.0 722.0,181Z" fill="#308c59"/>
<path d="M441.5,181 Q443.6,176.2 448.5,176.2 Q453.4,176.2 455.5,181Z" fill="#308c59"/>
<path d="M495.5,181 Q497.6,175.2 502.5,175.2 Q507.4,175.2 509.5,181Z" fill="#308c59"/>
<path d="M522.5,181 Q524.0,176.0 527.5,176.0 Q531.0,176.0 532.5,181Z" fill="#308c59"/>
<path d="M603.5,181 Q604.9,176.0 608.0,176.0 Q611.1,176.0 612.5,181Z" fill="#308c59"/>
<path d="M70.0,181 Q71.8,176.3 76.0,176.3 Q80.2,176.3 82.0,181Z" fill="#308c59"/>
<path d="M377.0,181 Q379.7,176.2 386.0,176.2 Q392.3,176.2 395.0,181Z" fill="#308c59"/>
<path d="M266.0,181 Q267.8,176.2 272.0,176.2 Q276.2,176.2 278.0,181Z" fill="#308c59"/>
<path d="M34.0,181 Q35.8,176.6 40.0,176.6 Q44.2,176.6 46.0,181Z" fill="#308c59"/>
<path d="M570.0,181 Q571.8,176.4 576.0,176.4 Q580.2,176.4 582.0,181Z" fill="#308c59"/>
<path d="M747.0,181 Q748.5,175.0 752.0,175.0 Q755.5,175.0 757.0,181Z" fill="#308c59"/>
<rect x="0" y="181" width="755" height="9" fill="url(#bush)"/>
<rect x="0" y="189.5" width="755" height="22.5" fill="url(#fw)"/>
<rect x="0" y="205.2" width="755" height="6.800000000000011" fill="#22934b"/>
<rect x="0" y="0" width="7" height="212" fill="#fff" opacity="0.06"/>
<rect x="0.5" y="178" width="6" height="34" fill="#1f7d48" opacity="0.35"/>
<path d="M6.9,0V205M67.1,0V205M127.3,0V205M187.4,0V205M247.6,0V205M307.8,0V205M368.0,0V205M428.2,0V205M488.3,0V205M548.5,0V205M608.7,0V205M668.9,0V205M729.1,0V205M7,20.6H748.5M7,47.3H748.5M7,73.6H748.5M7,100.0H748.5M7,126.2H748.5M7,152.4H748.5M7,178.6H748.5M7,204.7H748.5" stroke="#fff" stroke-opacity="0.26" stroke-width="1" fill="none"/>
<path d="M1.2,0V212" stroke="#fff" stroke-opacity="0.25" stroke-width="0.8" fill="none"/>
<path d="M6.5,204.6C13.8,203.1 34.4,198.7 50.0,195.4C65.6,192.1 83.3,188.2 100.0,184.7C116.7,181.2 134.7,177.6 150.0,174.5C165.3,171.4 175.7,169.3 192.0,166.2C208.3,163.1 228.5,159.3 248.0,155.9C267.5,152.5 292.0,148.4 309.0,146.0C326.0,143.6 336.5,142.7 350.0,141.6C363.5,140.5 376.7,139.8 390.0,139.3C403.3,138.8 416.7,138.6 430.0,138.8C443.3,139.0 456.5,139.2 470.0,140.3C483.5,141.4 497.7,143.0 511.0,145.3C524.3,147.6 538.5,151.1 550.0,154.1C561.5,157.1 570.2,160.2 580.0,163.5C589.8,166.8 599.7,170.4 609.0,173.8C618.3,177.2 628.3,180.8 636.0,184.2C643.7,187.6 649.0,190.8 655.0,194.2C661.0,197.6 669.3,203.1 672.2,204.9L672.2,204.9 C676,202.8 682,201.0 688.4,201.1 C694,201.2 698,203.5 702.9,205.1 C705,204.4 707,204.1 709,204.2 C712,204.4 714,205 718,205 L750,205" stroke="#e8751b" stroke-width="2.8" fill="none" stroke-linejoin="round" stroke-linecap="butt"/>
<rect x="172.5" y="179.4" width="4.8" height="3.7" fill="#eef0ec"/><circle cx="174.9" cy="181.2" r="1" fill="#7d3040"/>
<rect x="325.9" y="179.4" width="4.8" height="3.7" fill="#eef0ec"/><circle cx="328.3" cy="181.2" r="1" fill="#7d3040"/>
<rect x="479.6" y="179.4" width="4.8" height="3.7" fill="#eef0ec"/><circle cx="482.0" cy="181.2" r="1" fill="#7d3040"/>
<rect x="632.8" y="179.4" width="4.8" height="3.7" fill="#eef0ec"/><circle cx="635.2" cy="181.2" r="1" fill="#7d3040"/>
<path d="M0,195.4H7.5" stroke="#eee" stroke-width="1.6"/><path d="M0.5,196.2H8" stroke="#333" stroke-width="0.8"/><rect x="2" y="202.6" width="1.2" height="2.6" fill="#ddd"/>
<path d="M0,190.2H8" stroke="#fff" stroke-opacity="0.4" stroke-width="0.8"/>
<circle cx="736.8" cy="16.5" r="14.2" fill="#f4f1e4" fill-opacity="0.66"/>
<g fill="none" stroke="#3fa0c0" stroke-width="1.6" transform="translate(-0.3,0)" stroke-linecap="round" stroke-linejoin="round"><path d="M742.2,13.4 C741,9.6 738.8,7.6 736.2,7.6 C733.4,7.6 731.6,10.4 731,14.4"/><path d="M728.2,14 L731,17.4 L734,14 Z"/><path d="M730.6,21 C731.8,25.2 733.8,27.4 736.4,27.4 C739.2,27.4 741,24.6 741.4,20.8"/><path d="M737.6,20.6 L741.4,16.9 L745.4,20.6 Z"/></g>
</g>
<path d="M0.4,274.2 Q0.6,277.4 3.6,277.4 L220.4,277.4 Q223.6,277.4 223.9,274.2" fill="none" stroke="#c4c4c4" stroke-width="1.1"/>
<path d="M2,278.4 L222,278.4" fill="none" stroke="#000" stroke-opacity="0.05" stroke-width="1"/>
<path d="M0.4,315.6 Q0.6,318.8 3.6,318.8 L220.4,318.8 Q223.6,318.8 223.9,315.6" fill="none" stroke="#c4c4c4" stroke-width="1.1"/>
<path d="M2,319.8 L222,319.8" fill="none" stroke="#000" stroke-opacity="0.05" stroke-width="1"/>
<path d="M198.5,256.2L211.3,256.2L204.9,263.6Z" fill="#ababab"/>
<path d="M198.5,297.5L211.3,297.5L204.9,304.9Z" fill="#ababab"/>
<rect x="308.2" y="299.3" width="138.1" height="13.1" rx="4.5" fill="#ededed"/>
<circle cx="360.3" cy="304.75" r="8.7" fill="#3c7d82"/>
<circle cx="278.8" cy="305.8" r="12.4" fill="#fff" stroke="#cdcdcd" stroke-width="1.2"/>
<path d="M272.2,306.1H285.4" stroke="#c0c0c0" stroke-width="1.4" fill="none"/>
<circle cx="476.3" cy="305.8" r="12.4" fill="#fff" stroke="#cdcdcd" stroke-width="1.2"/>
<path d="M469.7,306.1H482.9M476.45,299.4V312.8" stroke="#c0c0c0" stroke-width="1.4" fill="none"/>
<rect x="561.2" y="299.3" width="137.5" height="13.1" rx="4.5" fill="#ededed"/>
<circle cx="643.9" cy="304.75" r="8.7" fill="#3c7d82"/>
<circle cx="532.3" cy="305.8" r="12.4" fill="#fff" stroke="#cdcdcd" stroke-width="1.2"/>
<path d="M525.7,306.1H538.9" stroke="#c0c0c0" stroke-width="1.4" fill="none"/>
<circle cx="728.0" cy="305.8" r="12.4" fill="#fff" stroke="#cdcdcd" stroke-width="1.2"/>
<path d="M721.4,306.1H734.6M728.15,299.4V312.8" stroke="#c0c0c0" stroke-width="1.4" fill="none"/>
<rect x="199.40" y="387.7" width="83.2" height="110.6" fill="#fff" stroke="#e0e0e0" stroke-width="1"/>
<rect x="199.85" y="388" width="82.3" height="30.4" fill="#3f8080"/>
<rect x="293.55" y="387.7" width="83.2" height="110.6" fill="#fff" stroke="#e0e0e0" stroke-width="1"/>
<rect x="294.00" y="388" width="82.3" height="30.4" fill="#3f8080"/>
<rect x="387.70" y="387.7" width="83.2" height="110.6" fill="#fff" stroke="#e0e0e0" stroke-width="1"/>
<rect x="388.15" y="388" width="82.3" height="30.4" fill="#3f8080"/>
<rect x="481.85" y="387.7" width="83.2" height="110.6" fill="#fff" stroke="#e0e0e0" stroke-width="1"/>
<rect x="482.30" y="388" width="82.3" height="30.4" fill="#3f8080"/>
<rect x="576.00" y="387.7" width="83.2" height="110.6" fill="#fff" stroke="#e0e0e0" stroke-width="1"/>
<rect x="576.45" y="388" width="82.3" height="30.4" fill="#3f8080"/>
<g font-family="'Liberation Sans', sans-serif" text-rendering="geometricPrecision">
<text transform="translate(10.01,36) scale(0.6714,1)" font-size="11.48" fill="#fff" letter-spacing="1.4" stroke="#fff" stroke-width="0.12" stroke-linejoin="round" opacity="0.8" style="text-shadow:0.12px 0 0 #fff,-0.12px 0 0 #fff">ft</text>
<text transform="translate(9.55,62) scale(0.6501,1)" font-size="11.48" fill="#fff" letter-spacing="1.4" stroke="#fff" stroke-width="0.12" stroke-linejoin="round" opacity="0.8" style="text-shadow:0.12px 0 0 #fff,-0.12px 0 0 #fff">180</text>
<text transform="translate(9.55,88) scale(0.6501,1)" font-size="11.48" fill="#fff" letter-spacing="1.4" stroke="#fff" stroke-width="0.12" stroke-linejoin="round" opacity="0.8" style="text-shadow:0.12px 0 0 #fff,-0.12px 0 0 #fff">150</text>
<text transform="translate(9.55,114) scale(0.6501,1)" font-size="11.48" fill="#fff" letter-spacing="1.4" stroke="#fff" stroke-width="0.12" stroke-linejoin="round" opacity="0.8" style="text-shadow:0.12px 0 0 #fff,-0.12px 0 0 #fff">120</text>
<text transform="translate(9.77,141) scale(0.6497,1)" font-size="11.48" fill="#fff" letter-spacing="1.4" stroke="#fff" stroke-width="0.12" stroke-linejoin="round" opacity="0.8" style="text-shadow:0.12px 0 0 #fff,-0.12px 0 0 #fff">90</text>
<text transform="translate(9.74,167) scale(0.6518,1)" font-size="11.48" fill="#fff" letter-spacing="1.4" stroke="#fff" stroke-width="0.12" stroke-linejoin="round" opacity="0.8" style="text-shadow:0.12px 0 0 #fff,-0.12px 0 0 #fff">60</text>
<text transform="translate(9.83,193) scale(0.6449,1)" font-size="11.48" fill="#fff" letter-spacing="1.4" stroke="#fff" stroke-width="0.12" stroke-linejoin="round" opacity="0.8" style="text-shadow:0.12px 0 0 #fff,-0.12px 0 0 #fff">30</text>
<text transform="translate(68.82,200) scale(0.6375,1)" font-size="11.77" fill="#fff" letter-spacing="1.4" stroke="#fff" stroke-width="0.12" stroke-linejoin="round" opacity="0.8" style="text-shadow:0.12px 0 0 #fff,-0.12px 0 0 #fff">20</text>
<text transform="translate(129.20,200) scale(0.6230,1)" font-size="11.77" fill="#fff" letter-spacing="1.4" stroke="#fff" stroke-width="0.12" stroke-linejoin="round" opacity="0.8" style="text-shadow:0.12px 0 0 #fff,-0.12px 0 0 #fff">40</text>
<text transform="translate(189.17,200) scale(0.6378,1)" font-size="11.77" fill="#fff" letter-spacing="1.4" stroke="#fff" stroke-width="0.12" stroke-linejoin="round" opacity="0.8" style="text-shadow:0.12px 0 0 #fff,-0.12px 0 0 #fff">60</text>
<text transform="translate(249.41,200) scale(0.6338,1)" font-size="11.77" fill="#fff" letter-spacing="1.4" stroke="#fff" stroke-width="0.12" stroke-linejoin="round" opacity="0.8" style="text-shadow:0.12px 0 0 #fff,-0.12px 0 0 #fff">80</text>
<text transform="translate(309.34,200) scale(0.6365,1)" font-size="11.77" fill="#fff" letter-spacing="1.4" stroke="#fff" stroke-width="0.12" stroke-linejoin="round" opacity="0.8" style="text-shadow:0.12px 0 0 #fff,-0.12px 0 0 #fff">100</text>
<text transform="translate(369.52,200) scale(0.6365,1)" font-size="11.77" fill="#fff" letter-spacing="1.4" stroke="#fff" stroke-width="0.12" stroke-linejoin="round" opacity="0.8" style="text-shadow:0.12px 0 0 #fff,-0.12px 0 0 #fff">120</text>
<text transform="translate(429.70,200) scale(0.6365,1)" font-size="11.77" fill="#fff" letter-spacing="1.4" stroke="#fff" stroke-width="0.12" stroke-linejoin="round" opacity="0.8" style="text-shadow:0.12px 0 0 #fff,-0.12px 0 0 #fff">140</text>
<text transform="translate(489.88,200) scale(0.6365,1)" font-size="11.77" fill="#fff" letter-spacing="1.4" stroke="#fff" stroke-width="0.12" stroke-linejoin="round" opacity="0.8" style="text-shadow:0.12px 0 0 #fff,-0.12px 0 0 #fff">160</text>
<text transform="translate(550.06,200) scale(0.6365,1)" font-size="11.77" fill="#fff" letter-spacing="1.4" stroke="#fff" stroke-width="0.12" stroke-linejoin="round" opacity="0.8" style="text-shadow:0.12px 0 0 #fff,-0.12px 0 0 #fff">180</text>
<text transform="translate(610.44,200) scale(0.6275,1)" font-size="11.77" fill="#fff" letter-spacing="1.4" stroke="#fff" stroke-width="0.12" stroke-linejoin="round" opacity="0.8" style="text-shadow:0.12px 0 0 #fff,-0.12px 0 0 #fff">200</text>
<text transform="translate(670.62,200) scale(0.6275,1)" font-size="11.77" fill="#fff" letter-spacing="1.4" stroke="#fff" stroke-width="0.12" stroke-linejoin="round" opacity="0.8" style="text-shadow:0.12px 0 0 #fff,-0.12px 0 0 #fff">220</text>
<text transform="translate(730.50,200) scale(0.6340,1)" font-size="11.77" fill="#fff" letter-spacing="1.4" stroke="#fff" stroke-width="0.12" stroke-linejoin="round" opacity="0.8" style="text-shadow:0.12px 0 0 #fff,-0.12px 0 0 #fff">yd</text>
<text transform="translate(0.45,265) scale(0.6109,1)" font-size="19.04" fill="#6b6b6b" letter-spacing="3.0" stroke="#6b6b6b" stroke-width="0.35" stroke-linejoin="round" style="text-shadow:0.55px 0 0 #6b6b6b,-0.55px 0 0 #6b6b6b">Combined</text>
<text transform="translate(0.30,307) scale(0.5984,1)" font-size="19.04" fill="#6b6b6b" letter-spacing="3.0" stroke="#6b6b6b" stroke-width="0.35" stroke-linejoin="round" style="text-shadow:0.55px 0 0 #6b6b6b,-0.55px 0 0 #6b6b6b">Driver</text>
<text transform="translate(346.72,272) scale(0.5497,1)" font-size="14.97" fill="#6e6e6e" letter-spacing="1.8" stroke="#6e6e6e" stroke-width="0.25" stroke-linejoin="round" style="text-shadow:0.3px 0 0 #6e6e6e,-0.3px 0 0 #6e6e6e">CLUB SPEED</text>
<text transform="translate(337.12,293) scale(0.6615,1)" font-size="17.73" fill="#3b7b80" font-weight="700" letter-spacing="1.3" style="text-shadow:0.35px 0 0 #3b7b80,-0.35px 0 0 #3b7b80">93.0 mph</text>
<text transform="translate(594.21,272) scale(0.5420,1)" font-size="14.97" fill="#6e6e6e" letter-spacing="1.8" stroke="#6e6e6e" stroke-width="0.25" stroke-linejoin="round" style="text-shadow:0.3px 0 0 #6e6e6e,-0.3px 0 0 #6e6e6e">ATTACK ANGLE</text>
<text transform="translate(634.56,293) scale(0.7102,1)" font-size="17.73" fill="#3b7b80" font-weight="700" letter-spacing="1.3" style="text-shadow:0.35px 0 0 #3b7b80,-0.35px 0 0 #3b7b80">1.5 °</text>
<text transform="translate(212.27,408) scale(0.5479,1)" font-size="14.39" fill="#fff" letter-spacing="1.8" stroke="#fff" stroke-width="0.2" stroke-linejoin="round" style="text-shadow:0.3px 0 0 #fff,-0.3px 0 0 #fff">BALL SPEED</text>
<text transform="translate(216.83,459) scale(0.6530,1)" font-size="26.16" fill="#6a6a6a" letter-spacing="2.2" stroke="#6a6a6a" stroke-width="0.3" stroke-linejoin="round" style="text-shadow:0.35px 0 0 #6a6a6a,-0.35px 0 0 #6a6a6a">136.6</text>
<text transform="translate(250.32,487) scale(0.6339,1)" font-size="14.39" fill="#6e6e6e" letter-spacing="1.8" stroke="#6e6e6e" stroke-width="0.25" stroke-linejoin="round" style="text-shadow:0.3px 0 0 #6e6e6e,-0.3px 0 0 #6e6e6e">MPH</text>
<text transform="translate(303.58,408) scale(0.5425,1)" font-size="14.39" fill="#fff" letter-spacing="1.8" stroke="#fff" stroke-width="0.2" stroke-linejoin="round" style="text-shadow:0.3px 0 0 #fff,-0.3px 0 0 #fff">LAUNCH ANG.</text>
<text transform="translate(316.64,459) scale(0.6447,1)" font-size="26.16" fill="#6a6a6a" letter-spacing="2.2" stroke="#6a6a6a" stroke-width="0.3" stroke-linejoin="round" style="text-shadow:0.35px 0 0 #6a6a6a,-0.35px 0 0 #6a6a6a">13.6</text>
<text transform="translate(347.27,487) scale(0.5693,1)" font-size="14.39" fill="#6e6e6e" letter-spacing="1.8" stroke="#6e6e6e" stroke-width="0.25" stroke-linejoin="round" style="text-shadow:0.3px 0 0 #6e6e6e,-0.3px 0 0 #6e6e6e">DEG</text>
<text transform="translate(405.16,408) scale(0.5351,1)" font-size="14.39" fill="#fff" letter-spacing="1.8" stroke="#fff" stroke-width="0.2" stroke-linejoin="round" style="text-shadow:0.3px 0 0 #fff,-0.3px 0 0 #fff">SPIN RATE</text>
<text transform="translate(407.65,459) scale(0.6712,1)" font-size="26.16" fill="#6a6a6a" letter-spacing="2.2" stroke="#6a6a6a" stroke-width="0.3" stroke-linejoin="round" style="text-shadow:0.35px 0 0 #6a6a6a,-0.35px 0 0 #6a6a6a">2442</text>
<text transform="translate(438.41,487) scale(0.6429,1)" font-size="14.39" fill="#6e6e6e" letter-spacing="1.8" stroke="#6e6e6e" stroke-width="0.25" stroke-linejoin="round" style="text-shadow:0.3px 0 0 #6e6e6e,-0.3px 0 0 #6e6e6e">RPM</text>
<text transform="translate(508.63,408) scale(0.5111,1)" font-size="14.39" fill="#fff" letter-spacing="1.8" stroke="#fff" stroke-width="0.2" stroke-linejoin="round" style="text-shadow:0.3px 0 0 #fff,-0.3px 0 0 #fff">CARRY</text>
<text transform="translate(507.78,459) scale(0.6328,1)" font-size="26.16" fill="#6a6a6a" letter-spacing="2.2" stroke="#6a6a6a" stroke-width="0.3" stroke-linejoin="round" style="text-shadow:0.35px 0 0 #6a6a6a,-0.35px 0 0 #6a6a6a">221</text>
<text transform="translate(542.26,487) scale(0.5824,1)" font-size="14.39" fill="#6e6e6e" letter-spacing="1.8" stroke="#6e6e6e" stroke-width="0.25" stroke-linejoin="round" style="text-shadow:0.3px 0 0 #6e6e6e,-0.3px 0 0 #6e6e6e">YD</text>
<text transform="translate(590.57,408) scale(0.5486,1)" font-size="14.39" fill="#fff" letter-spacing="1.8" stroke="#fff" stroke-width="0.2" stroke-linejoin="round" style="text-shadow:0.3px 0 0 #fff,-0.3px 0 0 #fff">LAND. ANG.</text>
<text transform="translate(607.57,459) scale(0.6582,1)" font-size="26.16" fill="#6a6a6a" letter-spacing="2.2" stroke="#6a6a6a" stroke-width="0.3" stroke-linejoin="round" style="text-shadow:0.35px 0 0 #6a6a6a,-0.35px 0 0 #6a6a6a">34</text>
<text transform="translate(629.57,487) scale(0.5693,1)" font-size="14.39" fill="#6e6e6e" letter-spacing="1.8" stroke="#6e6e6e" stroke-width="0.25" stroke-linejoin="round" style="text-shadow:0.3px 0 0 #6e6e6e,-0.3px 0 0 #6e6e6e">DEG</text>
</g>
</svg>
</body></html>
